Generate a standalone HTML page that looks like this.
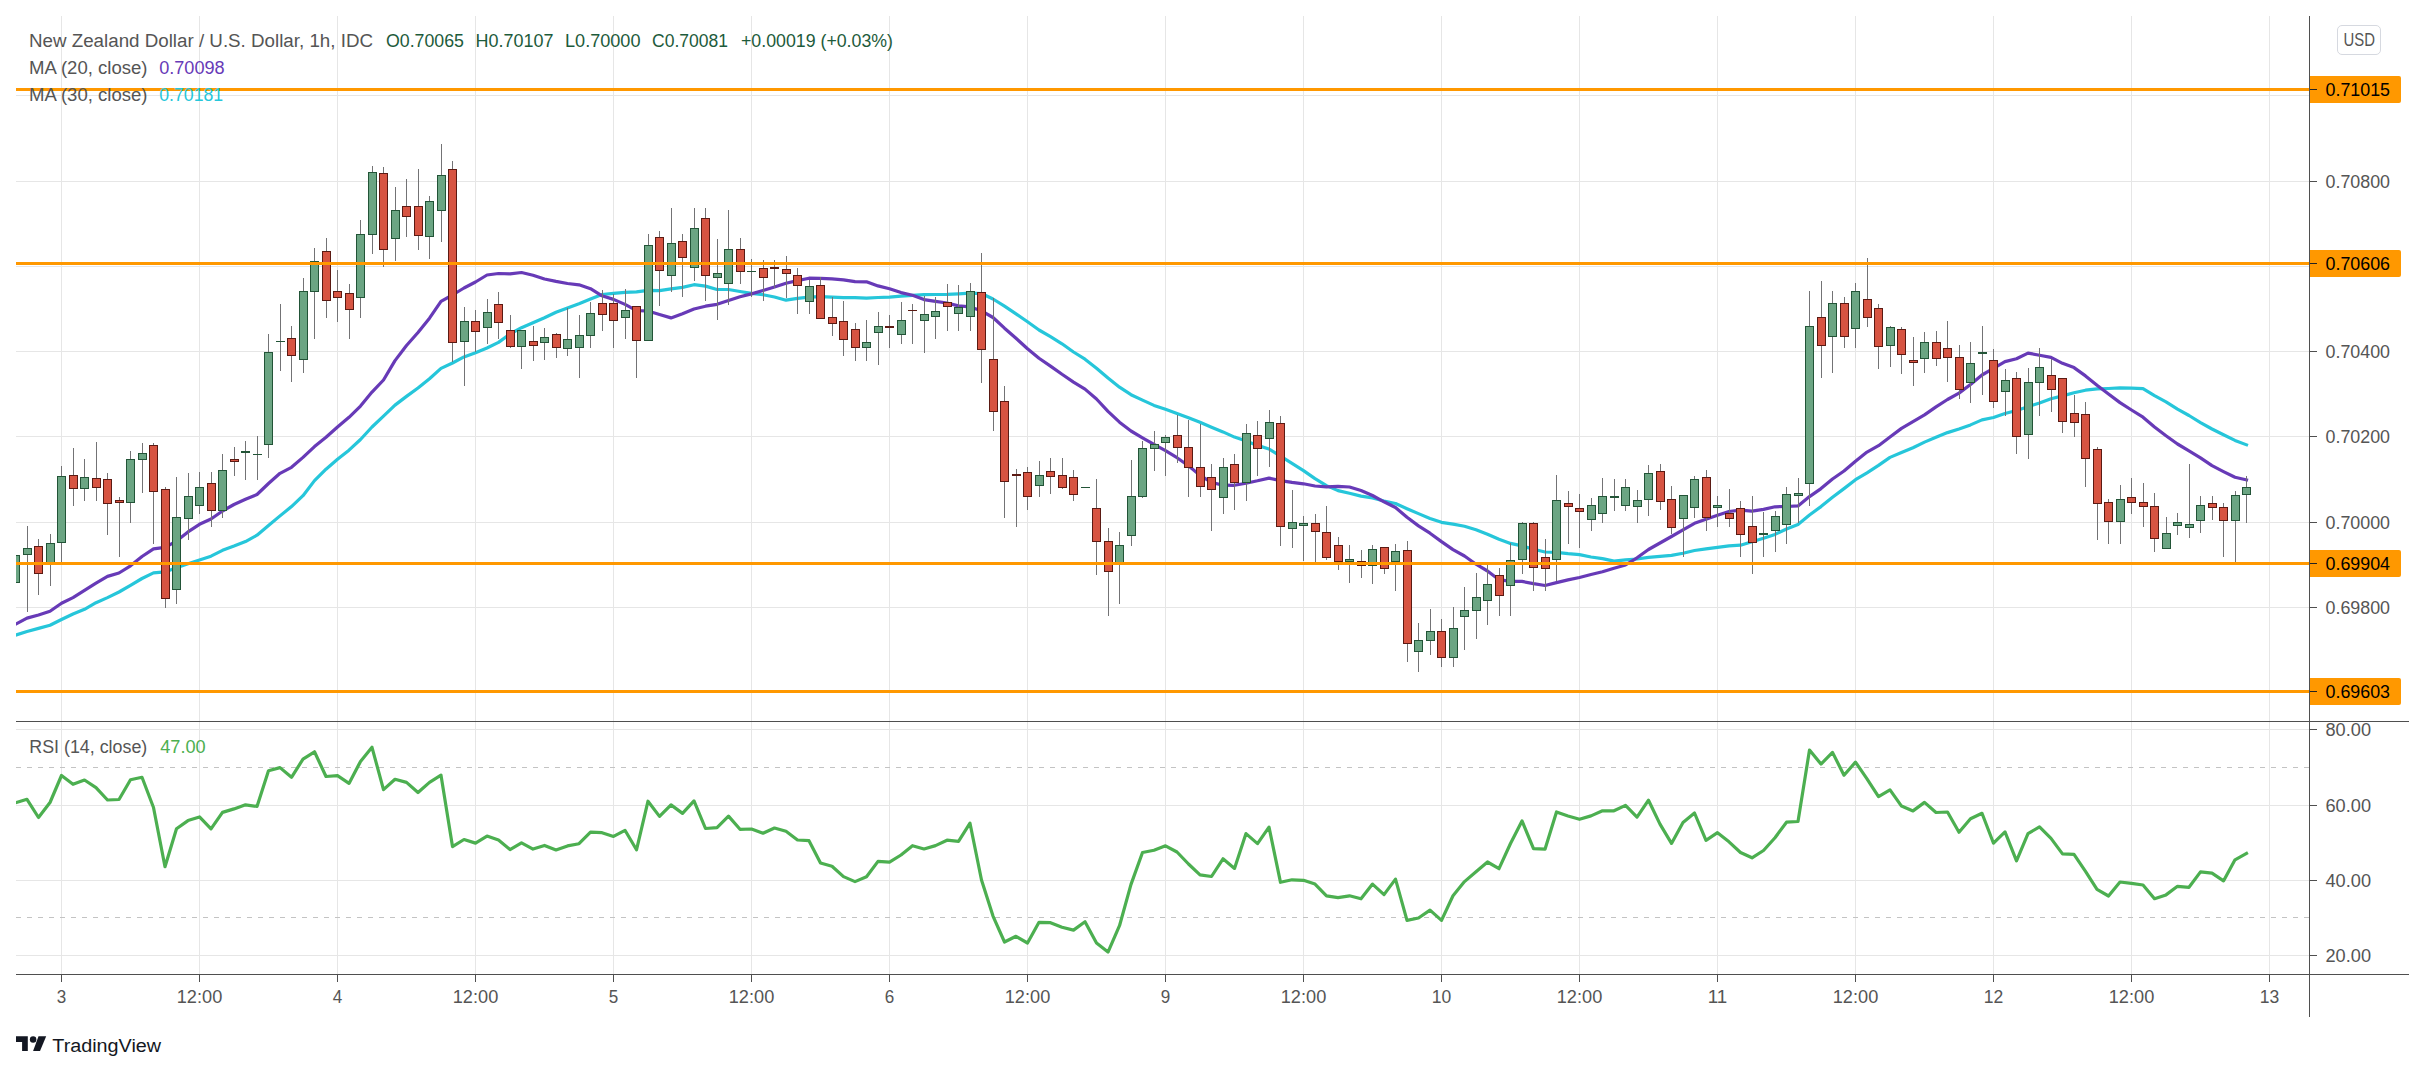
<!DOCTYPE html>
<html><head><meta charset="utf-8"><title>NZDUSD</title>
<style>html,body{margin:0;padding:0;background:#fff;}body{width:2425px;height:1072px;position:relative;overflow:hidden;font-family:"Liberation Sans",sans-serif;}</style>
</head><body>
<svg width="2425" height="1072" viewBox="0 0 2425 1072" style="position:absolute;left:0;top:0">
<rect width="2425" height="1072" fill="#fff"/>
<defs><clipPath id="cm"><rect x="16" y="16" width="2293" height="705"/></clipPath><clipPath id="cr"><rect x="16" y="722" width="2293" height="252"/></clipPath></defs>
<g fill="#e6e6e6" shape-rendering="crispEdges"><rect x="61" y="16" width="1" height="705"/><rect x="61" y="722" width="1" height="252"/><rect x="199" y="16" width="1" height="705"/><rect x="199" y="722" width="1" height="252"/><rect x="337" y="16" width="1" height="705"/><rect x="337" y="722" width="1" height="252"/><rect x="475" y="16" width="1" height="705"/><rect x="475" y="722" width="1" height="252"/><rect x="613" y="16" width="1" height="705"/><rect x="613" y="722" width="1" height="252"/><rect x="751" y="16" width="1" height="705"/><rect x="751" y="722" width="1" height="252"/><rect x="889" y="16" width="1" height="705"/><rect x="889" y="722" width="1" height="252"/><rect x="1027" y="16" width="1" height="705"/><rect x="1027" y="722" width="1" height="252"/><rect x="1165" y="16" width="1" height="705"/><rect x="1165" y="722" width="1" height="252"/><rect x="1303" y="16" width="1" height="705"/><rect x="1303" y="722" width="1" height="252"/><rect x="1441" y="16" width="1" height="705"/><rect x="1441" y="722" width="1" height="252"/><rect x="1579" y="16" width="1" height="705"/><rect x="1579" y="722" width="1" height="252"/><rect x="1717" y="16" width="1" height="705"/><rect x="1717" y="722" width="1" height="252"/><rect x="1855" y="16" width="1" height="705"/><rect x="1855" y="722" width="1" height="252"/><rect x="1993" y="16" width="1" height="705"/><rect x="1993" y="722" width="1" height="252"/><rect x="2131" y="16" width="1" height="705"/><rect x="2131" y="722" width="1" height="252"/><rect x="2269" y="16" width="1" height="705"/><rect x="2269" y="722" width="1" height="252"/><rect x="16" y="95" width="2293" height="1"/><rect x="16" y="181" width="2293" height="1"/><rect x="16" y="266" width="2293" height="1"/><rect x="16" y="351" width="2293" height="1"/><rect x="16" y="436" width="2293" height="1"/><rect x="16" y="522" width="2293" height="1"/><rect x="16" y="607" width="2293" height="1"/><rect x="16" y="692" width="2293" height="1"/><rect x="16" y="729" width="2293" height="1"/><rect x="16" y="805" width="2293" height="1"/><rect x="16" y="880" width="2293" height="1"/><rect x="16" y="955" width="2293" height="1"/></g>
<line x1="16" x2="2309" y1="767.5" y2="767.5" stroke="#c3c3c3" stroke-width="1" stroke-dasharray="5,6" shape-rendering="crispEdges"/>
<line x1="16" x2="2309" y1="917.5" y2="917.5" stroke="#c3c3c3" stroke-width="1" stroke-dasharray="5,6" shape-rendering="crispEdges"/>
<polyline points="15.5,635.2 27.0,631.5 38.5,628.4 50.0,625.3 61.5,619.5 73.0,614.0 84.5,609.3 96.0,602.7 107.5,597.6 119.0,592.0 130.5,585.3 142.0,578.5 153.5,572.9 165.0,571.9 176.5,567.8 188.0,563.7 199.5,560.0 211.0,556.2 222.5,550.3 234.0,546.1 245.5,541.6 257.0,535.2 268.5,525.6 280.0,515.9 291.5,506.6 303.0,495.7 314.5,480.6 326.0,469.2 337.5,459.3 349.0,450.2 360.5,439.5 372.0,427.0 383.5,416.2 395.0,405.1 406.5,396.4 418.0,388.0 429.5,378.8 441.0,368.4 452.5,363.0 464.0,356.9 475.5,352.7 487.0,348.0 498.5,342.4 510.0,334.0 521.5,327.7 533.0,322.7 544.5,317.7 556.0,312.3 567.5,307.9 579.0,303.7 590.5,299.1 602.0,294.5 613.5,293.4 625.0,292.4 636.5,291.9 648.0,290.4 659.5,290.7 671.0,288.8 682.5,287.4 694.0,284.7 705.5,286.1 717.0,289.5 728.5,289.5 740.0,291.5 751.5,293.3 763.0,294.7 774.5,297.0 786.0,300.2 797.5,298.3 809.0,297.2 820.5,296.7 832.0,297.1 843.5,297.7 855.0,297.7 866.5,298.1 878.0,297.5 889.5,297.2 901.0,296.2 912.5,295.3 924.0,294.6 935.5,294.5 947.0,294.3 958.5,293.8 970.0,293.2 981.5,293.5 993.0,299.0 1004.5,306.1 1016.0,313.8 1027.5,321.8 1039.0,330.0 1050.5,336.7 1062.0,343.8 1073.5,352.0 1085.0,359.2 1096.5,368.2 1108.0,378.0 1119.5,387.2 1131.0,394.7 1142.5,400.1 1154.0,405.4 1165.5,409.3 1177.0,413.5 1188.5,417.7 1200.0,422.3 1211.5,427.2 1223.0,431.9 1234.5,437.1 1246.0,440.9 1257.5,445.4 1269.0,449.0 1280.5,456.2 1292.0,463.4 1303.5,470.6 1315.0,478.6 1326.5,485.6 1338.0,490.6 1349.5,493.2 1361.0,496.1 1372.5,497.9 1384.0,501.0 1395.5,503.5 1407.0,508.7 1418.5,513.6 1430.0,518.4 1441.5,522.3 1453.0,524.2 1464.5,526.3 1476.0,529.7 1487.5,534.2 1499.0,539.3 1510.5,543.4 1522.0,545.9 1533.5,549.2 1545.0,552.0 1556.5,552.3 1568.0,553.7 1579.5,554.6 1591.0,557.0 1602.5,558.6 1614.0,561.1 1625.5,559.8 1637.0,559.0 1648.5,557.4 1660.0,556.4 1671.5,555.4 1683.0,553.2 1694.5,550.5 1706.0,548.9 1717.5,547.4 1729.0,545.8 1740.5,545.2 1752.0,541.8 1763.5,538.3 1775.0,534.4 1786.5,529.0 1798.0,524.5 1809.5,515.0 1821.0,506.6 1832.5,497.3 1844.0,488.6 1855.5,479.7 1867.0,472.8 1878.5,465.4 1890.0,457.4 1901.5,452.5 1913.0,447.7 1924.5,442.1 1936.0,437.2 1947.5,432.6 1959.0,429.0 1970.5,424.9 1982.0,419.9 1993.5,417.5 2005.0,413.5 2016.5,410.5 2028.0,406.7 2039.5,403.0 2051.0,398.7 2062.5,395.9 2074.0,392.7 2085.5,390.2 2097.0,388.9 2108.5,388.5 2120.0,387.9 2131.5,388.2 2143.0,388.6 2154.5,395.7 2166.0,401.9 2177.5,409.2 2189.0,415.5 2200.5,422.6 2212.0,429.0 2223.5,434.8 2235.0,440.4 2246.5,444.8" fill="none" stroke="#26c6da" stroke-width="3.2" stroke-linejoin="round" stroke-linecap="square" clip-path="url(#cm)"/>
<polyline points="15.5,624.3 27.0,618.1 38.5,615.0 50.0,611.3 61.5,603.3 73.0,597.6 84.5,590.4 96.0,583.2 107.5,576.4 119.0,573.0 130.5,565.8 142.0,556.5 153.5,548.9 165.0,547.3 176.5,541.1 188.0,531.9 199.5,524.3 211.0,519.0 222.5,511.0 234.0,504.5 245.5,499.3 257.0,494.5 268.5,483.5 280.0,473.3 291.5,467.3 303.0,457.4 314.5,446.6 326.0,437.3 337.5,427.0 349.0,417.3 360.5,406.1 372.0,392.1 383.5,380.0 395.0,360.6 406.5,345.5 418.0,332.5 429.5,318.2 441.0,301.4 452.5,295.0 464.0,288.0 475.5,282.0 487.0,275.0 498.5,273.5 510.0,273.8 521.5,272.5 533.0,275.2 544.5,279.0 556.0,281.4 567.5,283.5 579.0,284.8 590.5,288.7 602.0,295.8 613.5,299.4 625.0,304.4 636.5,310.6 648.0,311.0 659.5,314.5 671.0,317.9 682.5,313.7 694.0,309.0 705.5,306.2 717.0,304.3 728.5,300.6 740.0,296.8 751.5,293.9 763.0,290.5 774.5,287.0 786.0,283.3 797.5,280.6 809.0,278.2 820.5,278.4 832.0,278.9 843.5,279.8 855.0,281.7 866.5,281.8 878.0,285.9 889.5,288.7 901.0,292.6 912.5,295.3 924.0,299.6 935.5,301.4 947.0,303.0 958.5,305.9 970.0,306.9 981.5,310.8 993.0,317.5 1004.5,328.2 1016.0,338.3 1027.5,348.8 1039.0,358.3 1050.5,366.1 1062.0,374.3 1073.5,382.1 1085.0,389.1 1096.5,399.0 1108.0,411.3 1119.5,422.2 1131.0,431.0 1142.5,437.8 1154.0,444.3 1165.5,450.6 1177.0,457.7 1188.5,465.7 1200.0,475.4 1211.5,482.4 1223.0,485.2 1234.5,485.3 1246.0,483.2 1257.5,480.8 1269.0,478.1 1280.5,480.6 1292.0,482.4 1303.5,483.8 1315.0,486.0 1326.5,486.8 1338.0,486.3 1349.5,487.0 1361.0,490.5 1372.5,495.5 1384.0,501.8 1395.5,507.5 1407.0,517.3 1418.5,525.9 1430.0,533.2 1441.5,541.6 1453.0,549.6 1464.5,556.0 1476.0,564.2 1487.5,571.0 1499.0,579.7 1510.5,581.4 1522.0,581.4 1533.5,583.6 1545.0,585.5 1556.5,582.6 1568.0,579.9 1579.5,577.5 1591.0,574.5 1602.5,571.8 1614.0,568.2 1625.5,565.0 1637.0,557.8 1648.5,549.5 1660.0,543.0 1671.5,536.5 1683.0,529.8 1694.5,523.3 1706.0,519.3 1717.5,515.3 1729.0,511.5 1740.5,510.2 1752.0,511.1 1763.5,509.4 1775.0,506.8 1786.5,506.5 1798.0,505.9 1809.5,496.6 1821.0,488.6 1832.5,479.0 1844.0,471.0 1855.5,461.2 1867.0,452.1 1878.5,445.7 1890.0,437.0 1901.5,428.4 1913.0,421.7 1924.5,414.9 1936.0,406.9 1947.5,399.5 1959.0,393.1 1970.5,384.5 1982.0,375.0 1993.5,368.4 2005.0,361.6 2016.5,358.7 2028.0,353.1 2039.5,355.2 2051.0,357.4 2062.5,363.3 2074.0,367.6 2085.5,375.9 2097.0,385.2 2108.5,394.0 2120.0,402.6 2131.5,410.0 2143.0,417.2 2154.5,427.0 2166.0,435.8 2177.5,444.0 2189.0,450.8 2200.5,457.9 2212.0,465.6 2223.5,471.6 2235.0,477.3 2246.5,479.9" fill="none" stroke="#673ab7" stroke-width="3.2" stroke-linejoin="round" stroke-linecap="square" clip-path="url(#cm)"/>
<g shape-rendering="crispEdges" clip-path="url(#cm)"><rect x="15" y="540" width="1" height="43" fill="#737375"/><rect x="11" y="555" width="9" height="28" fill="#225437"/><rect x="12" y="556" width="7" height="26" fill="#6ba583"/><rect x="27" y="526" width="1" height="86" fill="#737375"/><rect x="23" y="548" width="9" height="7" fill="#225437"/><rect x="24" y="549" width="7" height="5" fill="#6ba583"/><rect x="38" y="539" width="1" height="56" fill="#737375"/><rect x="34" y="546" width="9" height="28" fill="#5b1a13"/><rect x="35" y="547" width="7" height="26" fill="#d75442"/><rect x="50" y="534" width="1" height="52" fill="#737375"/><rect x="46" y="543" width="9" height="21" fill="#225437"/><rect x="47" y="544" width="7" height="19" fill="#6ba583"/><rect x="61" y="466" width="1" height="97" fill="#737375"/><rect x="57" y="476" width="9" height="67" fill="#225437"/><rect x="58" y="477" width="7" height="65" fill="#6ba583"/><rect x="73" y="448" width="1" height="58" fill="#737375"/><rect x="69" y="475" width="9" height="14" fill="#5b1a13"/><rect x="70" y="476" width="7" height="12" fill="#d75442"/><rect x="84" y="459" width="1" height="42" fill="#737375"/><rect x="80" y="477" width="9" height="12" fill="#225437"/><rect x="81" y="478" width="7" height="10" fill="#6ba583"/><rect x="96" y="442" width="1" height="59" fill="#737375"/><rect x="92" y="478" width="9" height="10" fill="#5b1a13"/><rect x="93" y="479" width="7" height="8" fill="#d75442"/><rect x="107" y="473" width="1" height="62" fill="#737375"/><rect x="103" y="479" width="9" height="25" fill="#5b1a13"/><rect x="104" y="480" width="7" height="23" fill="#d75442"/><rect x="119" y="497" width="1" height="60" fill="#737375"/><rect x="115" y="500" width="9" height="3" fill="#5b1a13"/><rect x="116" y="501" width="7" height="1" fill="#d75442"/><rect x="130" y="451" width="1" height="72" fill="#737375"/><rect x="126" y="459" width="9" height="44" fill="#225437"/><rect x="127" y="460" width="7" height="42" fill="#6ba583"/><rect x="142" y="443" width="1" height="50" fill="#737375"/><rect x="138" y="453" width="9" height="7" fill="#225437"/><rect x="139" y="454" width="7" height="5" fill="#6ba583"/><rect x="153" y="443" width="1" height="101" fill="#737375"/><rect x="149" y="445" width="9" height="47" fill="#5b1a13"/><rect x="150" y="446" width="7" height="45" fill="#d75442"/><rect x="165" y="487" width="1" height="121" fill="#737375"/><rect x="161" y="489" width="9" height="110" fill="#5b1a13"/><rect x="162" y="490" width="7" height="108" fill="#d75442"/><rect x="176" y="477" width="1" height="127" fill="#737375"/><rect x="172" y="517" width="9" height="73" fill="#225437"/><rect x="173" y="518" width="7" height="71" fill="#6ba583"/><rect x="188" y="473" width="1" height="67" fill="#737375"/><rect x="184" y="496" width="9" height="23" fill="#225437"/><rect x="185" y="497" width="7" height="21" fill="#6ba583"/><rect x="199" y="472" width="1" height="42" fill="#737375"/><rect x="195" y="487" width="9" height="19" fill="#225437"/><rect x="196" y="488" width="7" height="17" fill="#6ba583"/><rect x="211" y="472" width="1" height="55" fill="#737375"/><rect x="207" y="483" width="9" height="28" fill="#5b1a13"/><rect x="208" y="484" width="7" height="26" fill="#d75442"/><rect x="222" y="454" width="1" height="64" fill="#737375"/><rect x="218" y="470" width="9" height="41" fill="#225437"/><rect x="219" y="471" width="7" height="39" fill="#6ba583"/><rect x="234" y="447" width="1" height="29" fill="#737375"/><rect x="230" y="459" width="9" height="3" fill="#5b1a13"/><rect x="231" y="460" width="7" height="1" fill="#d75442"/><rect x="245" y="441" width="1" height="39" fill="#737375"/><rect x="241" y="451" width="9" height="2" fill="#225437"/><rect x="257" y="436" width="1" height="44" fill="#737375"/><rect x="253" y="454" width="9" height="1" fill="#225437"/><rect x="268" y="334" width="1" height="124" fill="#737375"/><rect x="264" y="352" width="9" height="93" fill="#225437"/><rect x="265" y="353" width="7" height="91" fill="#6ba583"/><rect x="280" y="304" width="1" height="67" fill="#737375"/><rect x="276" y="341" width="9" height="1" fill="#225437"/><rect x="291" y="326" width="1" height="56" fill="#737375"/><rect x="287" y="338" width="9" height="18" fill="#5b1a13"/><rect x="288" y="339" width="7" height="16" fill="#d75442"/><rect x="303" y="278" width="1" height="95" fill="#737375"/><rect x="299" y="291" width="9" height="69" fill="#225437"/><rect x="300" y="292" width="7" height="67" fill="#6ba583"/><rect x="314" y="248" width="1" height="91" fill="#737375"/><rect x="310" y="261" width="9" height="31" fill="#225437"/><rect x="311" y="262" width="7" height="29" fill="#6ba583"/><rect x="326" y="238" width="1" height="80" fill="#737375"/><rect x="322" y="251" width="9" height="50" fill="#5b1a13"/><rect x="323" y="252" width="7" height="48" fill="#d75442"/><rect x="337" y="270" width="1" height="52" fill="#737375"/><rect x="333" y="291" width="9" height="7" fill="#5b1a13"/><rect x="334" y="292" width="7" height="5" fill="#d75442"/><rect x="349" y="284" width="1" height="55" fill="#737375"/><rect x="345" y="293" width="9" height="17" fill="#5b1a13"/><rect x="346" y="294" width="7" height="15" fill="#d75442"/><rect x="360" y="220" width="1" height="98" fill="#737375"/><rect x="356" y="234" width="9" height="64" fill="#225437"/><rect x="357" y="235" width="7" height="62" fill="#6ba583"/><rect x="372" y="166" width="1" height="88" fill="#737375"/><rect x="368" y="172" width="9" height="63" fill="#225437"/><rect x="369" y="173" width="7" height="61" fill="#6ba583"/><rect x="383" y="167" width="1" height="100" fill="#737375"/><rect x="379" y="173" width="9" height="77" fill="#5b1a13"/><rect x="380" y="174" width="7" height="75" fill="#d75442"/><rect x="395" y="187" width="1" height="74" fill="#737375"/><rect x="391" y="210" width="9" height="29" fill="#225437"/><rect x="392" y="211" width="7" height="27" fill="#6ba583"/><rect x="406" y="179" width="1" height="58" fill="#737375"/><rect x="402" y="206" width="9" height="11" fill="#5b1a13"/><rect x="403" y="207" width="7" height="9" fill="#d75442"/><rect x="418" y="169" width="1" height="81" fill="#737375"/><rect x="414" y="206" width="9" height="30" fill="#5b1a13"/><rect x="415" y="207" width="7" height="28" fill="#d75442"/><rect x="429" y="196" width="1" height="63" fill="#737375"/><rect x="425" y="201" width="9" height="36" fill="#225437"/><rect x="426" y="202" width="7" height="34" fill="#6ba583"/><rect x="441" y="144" width="1" height="98" fill="#737375"/><rect x="437" y="175" width="9" height="36" fill="#225437"/><rect x="438" y="176" width="7" height="34" fill="#6ba583"/><rect x="452" y="161" width="1" height="201" fill="#737375"/><rect x="448" y="169" width="9" height="174" fill="#5b1a13"/><rect x="449" y="170" width="7" height="172" fill="#d75442"/><rect x="464" y="307" width="1" height="79" fill="#737375"/><rect x="460" y="321" width="9" height="21" fill="#225437"/><rect x="461" y="322" width="7" height="19" fill="#6ba583"/><rect x="475" y="310" width="1" height="42" fill="#737375"/><rect x="471" y="321" width="9" height="11" fill="#5b1a13"/><rect x="472" y="322" width="7" height="9" fill="#d75442"/><rect x="487" y="299" width="1" height="45" fill="#737375"/><rect x="483" y="312" width="9" height="16" fill="#225437"/><rect x="484" y="313" width="7" height="14" fill="#6ba583"/><rect x="498" y="292" width="1" height="47" fill="#737375"/><rect x="494" y="304" width="9" height="19" fill="#5b1a13"/><rect x="495" y="305" width="7" height="17" fill="#d75442"/><rect x="510" y="315" width="1" height="33" fill="#737375"/><rect x="506" y="330" width="9" height="17" fill="#5b1a13"/><rect x="507" y="331" width="7" height="15" fill="#d75442"/><rect x="521" y="330" width="1" height="39" fill="#737375"/><rect x="517" y="330" width="9" height="17" fill="#225437"/><rect x="518" y="331" width="7" height="15" fill="#6ba583"/><rect x="533" y="326" width="1" height="35" fill="#737375"/><rect x="529" y="341" width="9" height="5" fill="#5b1a13"/><rect x="530" y="342" width="7" height="3" fill="#d75442"/><rect x="544" y="328" width="1" height="32" fill="#737375"/><rect x="540" y="337" width="9" height="6" fill="#225437"/><rect x="541" y="338" width="7" height="4" fill="#6ba583"/><rect x="556" y="333" width="1" height="25" fill="#737375"/><rect x="552" y="334" width="9" height="14" fill="#5b1a13"/><rect x="553" y="335" width="7" height="12" fill="#d75442"/><rect x="567" y="308" width="1" height="48" fill="#737375"/><rect x="563" y="339" width="9" height="10" fill="#225437"/><rect x="564" y="340" width="7" height="8" fill="#6ba583"/><rect x="579" y="315" width="1" height="63" fill="#737375"/><rect x="575" y="335" width="9" height="13" fill="#225437"/><rect x="576" y="336" width="7" height="11" fill="#6ba583"/><rect x="590" y="302" width="1" height="46" fill="#737375"/><rect x="586" y="313" width="9" height="23" fill="#225437"/><rect x="587" y="314" width="7" height="21" fill="#6ba583"/><rect x="602" y="290" width="1" height="41" fill="#737375"/><rect x="598" y="303" width="9" height="12" fill="#5b1a13"/><rect x="599" y="304" width="7" height="10" fill="#d75442"/><rect x="613" y="294" width="1" height="54" fill="#737375"/><rect x="609" y="303" width="9" height="18" fill="#5b1a13"/><rect x="610" y="304" width="7" height="16" fill="#d75442"/><rect x="625" y="289" width="1" height="50" fill="#737375"/><rect x="621" y="310" width="9" height="8" fill="#225437"/><rect x="622" y="311" width="7" height="6" fill="#6ba583"/><rect x="636" y="306" width="1" height="72" fill="#737375"/><rect x="632" y="306" width="9" height="35" fill="#5b1a13"/><rect x="633" y="307" width="7" height="33" fill="#d75442"/><rect x="648" y="234" width="1" height="107" fill="#737375"/><rect x="644" y="245" width="9" height="96" fill="#225437"/><rect x="645" y="246" width="7" height="94" fill="#6ba583"/><rect x="659" y="231" width="1" height="75" fill="#737375"/><rect x="655" y="237" width="9" height="34" fill="#5b1a13"/><rect x="656" y="238" width="7" height="32" fill="#d75442"/><rect x="671" y="208" width="1" height="84" fill="#737375"/><rect x="667" y="243" width="9" height="33" fill="#225437"/><rect x="668" y="244" width="7" height="31" fill="#6ba583"/><rect x="682" y="234" width="1" height="63" fill="#737375"/><rect x="678" y="241" width="9" height="17" fill="#5b1a13"/><rect x="679" y="242" width="7" height="15" fill="#d75442"/><rect x="694" y="208" width="1" height="73" fill="#737375"/><rect x="690" y="228" width="9" height="40" fill="#225437"/><rect x="691" y="229" width="7" height="38" fill="#6ba583"/><rect x="705" y="208" width="1" height="93" fill="#737375"/><rect x="701" y="218" width="9" height="58" fill="#5b1a13"/><rect x="702" y="219" width="7" height="56" fill="#d75442"/><rect x="717" y="239" width="1" height="81" fill="#737375"/><rect x="713" y="273" width="9" height="5" fill="#225437"/><rect x="714" y="274" width="7" height="3" fill="#6ba583"/><rect x="728" y="210" width="1" height="95" fill="#737375"/><rect x="724" y="249" width="9" height="35" fill="#225437"/><rect x="725" y="250" width="7" height="33" fill="#6ba583"/><rect x="740" y="238" width="1" height="46" fill="#737375"/><rect x="736" y="249" width="9" height="23" fill="#5b1a13"/><rect x="737" y="250" width="7" height="21" fill="#d75442"/><rect x="751" y="259" width="1" height="38" fill="#737375"/><rect x="747" y="271" width="9" height="1" fill="#225437"/><rect x="763" y="260" width="1" height="41" fill="#737375"/><rect x="759" y="268" width="9" height="10" fill="#5b1a13"/><rect x="760" y="269" width="7" height="8" fill="#d75442"/><rect x="774" y="260" width="1" height="28" fill="#737375"/><rect x="770" y="267" width="9" height="2" fill="#5b1a13"/><rect x="786" y="256" width="1" height="42" fill="#737375"/><rect x="782" y="269" width="9" height="5" fill="#5b1a13"/><rect x="783" y="270" width="7" height="3" fill="#d75442"/><rect x="797" y="268" width="1" height="46" fill="#737375"/><rect x="793" y="275" width="9" height="11" fill="#5b1a13"/><rect x="794" y="276" width="7" height="9" fill="#d75442"/><rect x="809" y="280" width="1" height="34" fill="#737375"/><rect x="805" y="286" width="9" height="16" fill="#225437"/><rect x="806" y="287" width="7" height="14" fill="#6ba583"/><rect x="820" y="277" width="1" height="42" fill="#737375"/><rect x="816" y="285" width="9" height="34" fill="#5b1a13"/><rect x="817" y="286" width="7" height="32" fill="#d75442"/><rect x="832" y="297" width="1" height="39" fill="#737375"/><rect x="828" y="317" width="9" height="7" fill="#5b1a13"/><rect x="829" y="318" width="7" height="5" fill="#d75442"/><rect x="843" y="301" width="1" height="55" fill="#737375"/><rect x="839" y="321" width="9" height="19" fill="#5b1a13"/><rect x="840" y="322" width="7" height="17" fill="#d75442"/><rect x="855" y="323" width="1" height="38" fill="#737375"/><rect x="851" y="329" width="9" height="19" fill="#5b1a13"/><rect x="852" y="330" width="7" height="17" fill="#d75442"/><rect x="866" y="320" width="1" height="41" fill="#737375"/><rect x="862" y="342" width="9" height="6" fill="#225437"/><rect x="863" y="343" width="7" height="4" fill="#6ba583"/><rect x="878" y="312" width="1" height="53" fill="#737375"/><rect x="874" y="326" width="9" height="7" fill="#225437"/><rect x="875" y="327" width="7" height="5" fill="#6ba583"/><rect x="889" y="315" width="1" height="33" fill="#737375"/><rect x="885" y="326" width="9" height="2" fill="#5b1a13"/><rect x="901" y="302" width="1" height="42" fill="#737375"/><rect x="897" y="320" width="9" height="15" fill="#225437"/><rect x="898" y="321" width="7" height="13" fill="#6ba583"/><rect x="912" y="304" width="1" height="40" fill="#737375"/><rect x="908" y="310" width="9" height="1" fill="#5b1a13"/><rect x="924" y="296" width="1" height="57" fill="#737375"/><rect x="920" y="314" width="9" height="7" fill="#225437"/><rect x="921" y="315" width="7" height="5" fill="#6ba583"/><rect x="935" y="297" width="1" height="42" fill="#737375"/><rect x="931" y="311" width="9" height="6" fill="#225437"/><rect x="932" y="312" width="7" height="4" fill="#6ba583"/><rect x="947" y="284" width="1" height="47" fill="#737375"/><rect x="943" y="302" width="9" height="5" fill="#5b1a13"/><rect x="944" y="303" width="7" height="3" fill="#d75442"/><rect x="958" y="285" width="1" height="46" fill="#737375"/><rect x="954" y="307" width="9" height="7" fill="#225437"/><rect x="955" y="308" width="7" height="5" fill="#6ba583"/><rect x="970" y="283" width="1" height="48" fill="#737375"/><rect x="966" y="291" width="9" height="26" fill="#225437"/><rect x="967" y="292" width="7" height="24" fill="#6ba583"/><rect x="981" y="253" width="1" height="130" fill="#737375"/><rect x="977" y="292" width="9" height="58" fill="#5b1a13"/><rect x="978" y="293" width="7" height="56" fill="#d75442"/><rect x="993" y="298" width="1" height="133" fill="#737375"/><rect x="989" y="359" width="9" height="53" fill="#5b1a13"/><rect x="990" y="360" width="7" height="51" fill="#d75442"/><rect x="1004" y="386" width="1" height="132" fill="#737375"/><rect x="1000" y="401" width="9" height="81" fill="#5b1a13"/><rect x="1001" y="402" width="7" height="79" fill="#d75442"/><rect x="1016" y="469" width="1" height="58" fill="#737375"/><rect x="1012" y="474" width="9" height="2" fill="#5b1a13"/><rect x="1027" y="467" width="1" height="43" fill="#737375"/><rect x="1023" y="472" width="9" height="25" fill="#5b1a13"/><rect x="1024" y="473" width="7" height="23" fill="#d75442"/><rect x="1039" y="461" width="1" height="36" fill="#737375"/><rect x="1035" y="475" width="9" height="11" fill="#225437"/><rect x="1036" y="476" width="7" height="9" fill="#6ba583"/><rect x="1050" y="458" width="1" height="36" fill="#737375"/><rect x="1046" y="471" width="9" height="6" fill="#5b1a13"/><rect x="1047" y="472" width="7" height="4" fill="#d75442"/><rect x="1062" y="458" width="1" height="31" fill="#737375"/><rect x="1058" y="475" width="9" height="13" fill="#5b1a13"/><rect x="1059" y="476" width="7" height="11" fill="#d75442"/><rect x="1073" y="470" width="1" height="31" fill="#737375"/><rect x="1069" y="477" width="9" height="18" fill="#5b1a13"/><rect x="1070" y="478" width="7" height="16" fill="#d75442"/><rect x="1085" y="487" width="1" height="1" fill="#737375"/><rect x="1081" y="487" width="9" height="1" fill="#225437"/><rect x="1096" y="479" width="1" height="96" fill="#737375"/><rect x="1092" y="508" width="9" height="34" fill="#5b1a13"/><rect x="1093" y="509" width="7" height="32" fill="#d75442"/><rect x="1108" y="528" width="1" height="88" fill="#737375"/><rect x="1104" y="541" width="9" height="31" fill="#5b1a13"/><rect x="1105" y="542" width="7" height="29" fill="#d75442"/><rect x="1119" y="532" width="1" height="72" fill="#737375"/><rect x="1115" y="545" width="9" height="19" fill="#225437"/><rect x="1116" y="546" width="7" height="17" fill="#6ba583"/><rect x="1131" y="460" width="1" height="86" fill="#737375"/><rect x="1127" y="496" width="9" height="40" fill="#225437"/><rect x="1128" y="497" width="7" height="38" fill="#6ba583"/><rect x="1142" y="441" width="1" height="57" fill="#737375"/><rect x="1138" y="448" width="9" height="49" fill="#225437"/><rect x="1139" y="449" width="7" height="47" fill="#6ba583"/><rect x="1154" y="431" width="1" height="40" fill="#737375"/><rect x="1150" y="444" width="9" height="5" fill="#225437"/><rect x="1151" y="445" width="7" height="3" fill="#6ba583"/><rect x="1165" y="435" width="1" height="41" fill="#737375"/><rect x="1161" y="437" width="9" height="6" fill="#225437"/><rect x="1162" y="438" width="7" height="4" fill="#6ba583"/><rect x="1177" y="415" width="1" height="48" fill="#737375"/><rect x="1173" y="435" width="9" height="13" fill="#5b1a13"/><rect x="1174" y="436" width="7" height="11" fill="#d75442"/><rect x="1188" y="420" width="1" height="77" fill="#737375"/><rect x="1184" y="447" width="9" height="21" fill="#5b1a13"/><rect x="1185" y="448" width="7" height="19" fill="#d75442"/><rect x="1200" y="424" width="1" height="73" fill="#737375"/><rect x="1196" y="467" width="9" height="20" fill="#5b1a13"/><rect x="1197" y="468" width="7" height="18" fill="#d75442"/><rect x="1211" y="464" width="1" height="67" fill="#737375"/><rect x="1207" y="477" width="9" height="13" fill="#5b1a13"/><rect x="1208" y="478" width="7" height="11" fill="#d75442"/><rect x="1223" y="458" width="1" height="56" fill="#737375"/><rect x="1219" y="467" width="9" height="31" fill="#225437"/><rect x="1220" y="468" width="7" height="29" fill="#6ba583"/><rect x="1234" y="454" width="1" height="56" fill="#737375"/><rect x="1230" y="464" width="9" height="19" fill="#5b1a13"/><rect x="1231" y="465" width="7" height="17" fill="#d75442"/><rect x="1246" y="424" width="1" height="77" fill="#737375"/><rect x="1242" y="433" width="9" height="50" fill="#225437"/><rect x="1243" y="434" width="7" height="48" fill="#6ba583"/><rect x="1257" y="421" width="1" height="55" fill="#737375"/><rect x="1253" y="435" width="9" height="14" fill="#5b1a13"/><rect x="1254" y="436" width="7" height="12" fill="#d75442"/><rect x="1269" y="410" width="1" height="57" fill="#737375"/><rect x="1265" y="422" width="9" height="17" fill="#225437"/><rect x="1266" y="423" width="7" height="15" fill="#6ba583"/><rect x="1280" y="416" width="1" height="130" fill="#737375"/><rect x="1276" y="423" width="9" height="104" fill="#5b1a13"/><rect x="1277" y="424" width="7" height="102" fill="#d75442"/><rect x="1292" y="490" width="1" height="58" fill="#737375"/><rect x="1288" y="522" width="9" height="7" fill="#225437"/><rect x="1289" y="523" width="7" height="5" fill="#6ba583"/><rect x="1303" y="516" width="1" height="45" fill="#737375"/><rect x="1299" y="523" width="9" height="3" fill="#225437"/><rect x="1300" y="524" width="7" height="1" fill="#6ba583"/><rect x="1315" y="514" width="1" height="48" fill="#737375"/><rect x="1311" y="523" width="9" height="9" fill="#5b1a13"/><rect x="1312" y="524" width="7" height="7" fill="#d75442"/><rect x="1326" y="506" width="1" height="54" fill="#737375"/><rect x="1322" y="532" width="9" height="26" fill="#5b1a13"/><rect x="1323" y="533" width="7" height="24" fill="#d75442"/><rect x="1338" y="537" width="1" height="33" fill="#737375"/><rect x="1334" y="545" width="9" height="17" fill="#5b1a13"/><rect x="1335" y="546" width="7" height="15" fill="#d75442"/><rect x="1349" y="545" width="1" height="38" fill="#737375"/><rect x="1345" y="559" width="9" height="3" fill="#225437"/><rect x="1346" y="560" width="7" height="1" fill="#6ba583"/><rect x="1361" y="550" width="1" height="28" fill="#737375"/><rect x="1357" y="561" width="9" height="5" fill="#5b1a13"/><rect x="1358" y="562" width="7" height="3" fill="#d75442"/><rect x="1372" y="545" width="1" height="39" fill="#737375"/><rect x="1368" y="549" width="9" height="17" fill="#225437"/><rect x="1369" y="550" width="7" height="15" fill="#6ba583"/><rect x="1384" y="547" width="1" height="27" fill="#737375"/><rect x="1380" y="547" width="9" height="22" fill="#5b1a13"/><rect x="1381" y="548" width="7" height="20" fill="#d75442"/><rect x="1395" y="544" width="1" height="47" fill="#737375"/><rect x="1391" y="551" width="9" height="11" fill="#225437"/><rect x="1392" y="552" width="7" height="9" fill="#6ba583"/><rect x="1407" y="541" width="1" height="121" fill="#737375"/><rect x="1403" y="550" width="9" height="94" fill="#5b1a13"/><rect x="1404" y="551" width="7" height="92" fill="#d75442"/><rect x="1418" y="623" width="1" height="49" fill="#737375"/><rect x="1414" y="640" width="9" height="12" fill="#225437"/><rect x="1415" y="641" width="7" height="10" fill="#6ba583"/><rect x="1430" y="609" width="1" height="46" fill="#737375"/><rect x="1426" y="631" width="9" height="10" fill="#225437"/><rect x="1427" y="632" width="7" height="8" fill="#6ba583"/><rect x="1441" y="619" width="1" height="48" fill="#737375"/><rect x="1437" y="631" width="9" height="27" fill="#5b1a13"/><rect x="1438" y="632" width="7" height="25" fill="#d75442"/><rect x="1453" y="607" width="1" height="60" fill="#737375"/><rect x="1449" y="628" width="9" height="30" fill="#225437"/><rect x="1450" y="629" width="7" height="28" fill="#6ba583"/><rect x="1464" y="587" width="1" height="63" fill="#737375"/><rect x="1460" y="610" width="9" height="7" fill="#225437"/><rect x="1461" y="611" width="7" height="5" fill="#6ba583"/><rect x="1476" y="573" width="1" height="66" fill="#737375"/><rect x="1472" y="597" width="9" height="14" fill="#225437"/><rect x="1473" y="598" width="7" height="12" fill="#6ba583"/><rect x="1487" y="565" width="1" height="60" fill="#737375"/><rect x="1483" y="584" width="9" height="17" fill="#225437"/><rect x="1484" y="585" width="7" height="15" fill="#6ba583"/><rect x="1499" y="568" width="1" height="48" fill="#737375"/><rect x="1495" y="575" width="9" height="21" fill="#5b1a13"/><rect x="1496" y="576" width="7" height="19" fill="#d75442"/><rect x="1510" y="543" width="1" height="73" fill="#737375"/><rect x="1506" y="560" width="9" height="26" fill="#225437"/><rect x="1507" y="561" width="7" height="24" fill="#6ba583"/><rect x="1522" y="522" width="1" height="52" fill="#737375"/><rect x="1518" y="523" width="9" height="37" fill="#225437"/><rect x="1519" y="524" width="7" height="35" fill="#6ba583"/><rect x="1533" y="522" width="1" height="69" fill="#737375"/><rect x="1529" y="523" width="9" height="45" fill="#5b1a13"/><rect x="1530" y="524" width="7" height="43" fill="#d75442"/><rect x="1545" y="539" width="1" height="52" fill="#737375"/><rect x="1541" y="557" width="9" height="12" fill="#5b1a13"/><rect x="1542" y="558" width="7" height="10" fill="#d75442"/><rect x="1556" y="475" width="1" height="106" fill="#737375"/><rect x="1552" y="500" width="9" height="60" fill="#225437"/><rect x="1553" y="501" width="7" height="58" fill="#6ba583"/><rect x="1568" y="491" width="1" height="53" fill="#737375"/><rect x="1564" y="503" width="9" height="4" fill="#5b1a13"/><rect x="1565" y="504" width="7" height="2" fill="#d75442"/><rect x="1579" y="494" width="1" height="54" fill="#737375"/><rect x="1575" y="508" width="9" height="4" fill="#5b1a13"/><rect x="1576" y="509" width="7" height="2" fill="#d75442"/><rect x="1591" y="498" width="1" height="33" fill="#737375"/><rect x="1587" y="505" width="9" height="15" fill="#225437"/><rect x="1588" y="506" width="7" height="13" fill="#6ba583"/><rect x="1602" y="478" width="1" height="45" fill="#737375"/><rect x="1598" y="496" width="9" height="18" fill="#225437"/><rect x="1599" y="497" width="7" height="16" fill="#6ba583"/><rect x="1614" y="479" width="1" height="32" fill="#737375"/><rect x="1610" y="496" width="9" height="2" fill="#225437"/><rect x="1625" y="479" width="1" height="32" fill="#737375"/><rect x="1621" y="487" width="9" height="19" fill="#225437"/><rect x="1622" y="488" width="7" height="17" fill="#6ba583"/><rect x="1637" y="490" width="1" height="33" fill="#737375"/><rect x="1633" y="500" width="9" height="7" fill="#225437"/><rect x="1634" y="501" width="7" height="5" fill="#6ba583"/><rect x="1648" y="465" width="1" height="51" fill="#737375"/><rect x="1644" y="473" width="9" height="27" fill="#225437"/><rect x="1645" y="474" width="7" height="25" fill="#6ba583"/><rect x="1660" y="464" width="1" height="46" fill="#737375"/><rect x="1656" y="471" width="9" height="31" fill="#5b1a13"/><rect x="1657" y="472" width="7" height="29" fill="#d75442"/><rect x="1671" y="486" width="1" height="48" fill="#737375"/><rect x="1667" y="499" width="9" height="29" fill="#5b1a13"/><rect x="1668" y="500" width="7" height="27" fill="#d75442"/><rect x="1683" y="495" width="1" height="62" fill="#737375"/><rect x="1679" y="495" width="9" height="24" fill="#225437"/><rect x="1680" y="496" width="7" height="22" fill="#6ba583"/><rect x="1694" y="476" width="1" height="42" fill="#737375"/><rect x="1690" y="479" width="9" height="29" fill="#225437"/><rect x="1691" y="480" width="7" height="27" fill="#6ba583"/><rect x="1706" y="470" width="1" height="61" fill="#737375"/><rect x="1702" y="477" width="9" height="41" fill="#5b1a13"/><rect x="1703" y="478" width="7" height="39" fill="#d75442"/><rect x="1717" y="496" width="1" height="31" fill="#737375"/><rect x="1713" y="505" width="9" height="3" fill="#225437"/><rect x="1714" y="506" width="7" height="1" fill="#6ba583"/><rect x="1729" y="489" width="1" height="38" fill="#737375"/><rect x="1725" y="513" width="9" height="6" fill="#5b1a13"/><rect x="1726" y="514" width="7" height="4" fill="#d75442"/><rect x="1740" y="501" width="1" height="56" fill="#737375"/><rect x="1736" y="508" width="9" height="27" fill="#5b1a13"/><rect x="1737" y="509" width="7" height="25" fill="#d75442"/><rect x="1752" y="496" width="1" height="78" fill="#737375"/><rect x="1748" y="526" width="9" height="17" fill="#5b1a13"/><rect x="1749" y="527" width="7" height="15" fill="#d75442"/><rect x="1763" y="512" width="1" height="45" fill="#737375"/><rect x="1759" y="533" width="9" height="2" fill="#225437"/><rect x="1775" y="511" width="1" height="41" fill="#737375"/><rect x="1771" y="516" width="9" height="15" fill="#225437"/><rect x="1772" y="517" width="7" height="13" fill="#6ba583"/><rect x="1786" y="487" width="1" height="57" fill="#737375"/><rect x="1782" y="494" width="9" height="31" fill="#225437"/><rect x="1783" y="495" width="7" height="29" fill="#6ba583"/><rect x="1798" y="478" width="1" height="45" fill="#737375"/><rect x="1794" y="493" width="9" height="3" fill="#225437"/><rect x="1795" y="494" width="7" height="1" fill="#6ba583"/><rect x="1809" y="291" width="1" height="215" fill="#737375"/><rect x="1805" y="326" width="9" height="158" fill="#225437"/><rect x="1806" y="327" width="7" height="156" fill="#6ba583"/><rect x="1821" y="281" width="1" height="97" fill="#737375"/><rect x="1817" y="317" width="9" height="29" fill="#5b1a13"/><rect x="1818" y="318" width="7" height="27" fill="#d75442"/><rect x="1832" y="291" width="1" height="82" fill="#737375"/><rect x="1828" y="303" width="9" height="34" fill="#225437"/><rect x="1829" y="304" width="7" height="32" fill="#6ba583"/><rect x="1844" y="297" width="1" height="51" fill="#737375"/><rect x="1840" y="303" width="9" height="34" fill="#5b1a13"/><rect x="1841" y="304" width="7" height="32" fill="#d75442"/><rect x="1855" y="283" width="1" height="65" fill="#737375"/><rect x="1851" y="291" width="9" height="38" fill="#225437"/><rect x="1852" y="292" width="7" height="36" fill="#6ba583"/><rect x="1867" y="258" width="1" height="69" fill="#737375"/><rect x="1863" y="299" width="9" height="19" fill="#5b1a13"/><rect x="1864" y="300" width="7" height="17" fill="#d75442"/><rect x="1878" y="304" width="1" height="65" fill="#737375"/><rect x="1874" y="308" width="9" height="39" fill="#5b1a13"/><rect x="1875" y="309" width="7" height="37" fill="#d75442"/><rect x="1890" y="326" width="1" height="41" fill="#737375"/><rect x="1886" y="327" width="9" height="19" fill="#225437"/><rect x="1887" y="328" width="7" height="17" fill="#6ba583"/><rect x="1901" y="327" width="1" height="47" fill="#737375"/><rect x="1897" y="329" width="9" height="26" fill="#5b1a13"/><rect x="1898" y="330" width="7" height="24" fill="#d75442"/><rect x="1913" y="337" width="1" height="49" fill="#737375"/><rect x="1909" y="360" width="9" height="3" fill="#5b1a13"/><rect x="1910" y="361" width="7" height="1" fill="#d75442"/><rect x="1924" y="332" width="1" height="41" fill="#737375"/><rect x="1920" y="342" width="9" height="17" fill="#225437"/><rect x="1921" y="343" width="7" height="15" fill="#6ba583"/><rect x="1936" y="331" width="1" height="35" fill="#737375"/><rect x="1932" y="342" width="9" height="17" fill="#5b1a13"/><rect x="1933" y="343" width="7" height="15" fill="#d75442"/><rect x="1947" y="321" width="1" height="61" fill="#737375"/><rect x="1943" y="348" width="9" height="10" fill="#5b1a13"/><rect x="1944" y="349" width="7" height="8" fill="#d75442"/><rect x="1959" y="345" width="1" height="54" fill="#737375"/><rect x="1955" y="357" width="9" height="33" fill="#5b1a13"/><rect x="1956" y="358" width="7" height="31" fill="#d75442"/><rect x="1970" y="342" width="1" height="61" fill="#737375"/><rect x="1966" y="363" width="9" height="20" fill="#225437"/><rect x="1967" y="364" width="7" height="18" fill="#6ba583"/><rect x="1982" y="326" width="1" height="69" fill="#737375"/><rect x="1978" y="352" width="9" height="2" fill="#225437"/><rect x="1993" y="349" width="1" height="59" fill="#737375"/><rect x="1989" y="360" width="9" height="42" fill="#5b1a13"/><rect x="1990" y="361" width="7" height="40" fill="#d75442"/><rect x="2005" y="369" width="1" height="47" fill="#737375"/><rect x="2001" y="380" width="9" height="12" fill="#225437"/><rect x="2002" y="381" width="7" height="10" fill="#6ba583"/><rect x="2016" y="372" width="1" height="82" fill="#737375"/><rect x="2012" y="378" width="9" height="59" fill="#5b1a13"/><rect x="2013" y="379" width="7" height="57" fill="#d75442"/><rect x="2028" y="368" width="1" height="91" fill="#737375"/><rect x="2024" y="382" width="9" height="53" fill="#225437"/><rect x="2025" y="383" width="7" height="51" fill="#6ba583"/><rect x="2039" y="348" width="1" height="68" fill="#737375"/><rect x="2035" y="367" width="9" height="16" fill="#225437"/><rect x="2036" y="368" width="7" height="14" fill="#6ba583"/><rect x="2051" y="359" width="1" height="53" fill="#737375"/><rect x="2047" y="375" width="9" height="15" fill="#5b1a13"/><rect x="2048" y="376" width="7" height="13" fill="#d75442"/><rect x="2062" y="378" width="1" height="55" fill="#737375"/><rect x="2058" y="378" width="9" height="44" fill="#5b1a13"/><rect x="2059" y="379" width="7" height="42" fill="#d75442"/><rect x="2074" y="395" width="1" height="42" fill="#737375"/><rect x="2070" y="413" width="9" height="10" fill="#5b1a13"/><rect x="2071" y="414" width="7" height="8" fill="#d75442"/><rect x="2085" y="402" width="1" height="85" fill="#737375"/><rect x="2081" y="414" width="9" height="45" fill="#5b1a13"/><rect x="2082" y="415" width="7" height="43" fill="#d75442"/><rect x="2097" y="447" width="1" height="93" fill="#737375"/><rect x="2093" y="449" width="9" height="55" fill="#5b1a13"/><rect x="2094" y="450" width="7" height="53" fill="#d75442"/><rect x="2108" y="499" width="1" height="45" fill="#737375"/><rect x="2104" y="502" width="9" height="20" fill="#5b1a13"/><rect x="2105" y="503" width="7" height="18" fill="#d75442"/><rect x="2120" y="485" width="1" height="59" fill="#737375"/><rect x="2116" y="499" width="9" height="23" fill="#225437"/><rect x="2117" y="500" width="7" height="21" fill="#6ba583"/><rect x="2131" y="478" width="1" height="36" fill="#737375"/><rect x="2127" y="497" width="9" height="6" fill="#5b1a13"/><rect x="2128" y="498" width="7" height="4" fill="#d75442"/><rect x="2143" y="483" width="1" height="44" fill="#737375"/><rect x="2139" y="502" width="9" height="5" fill="#5b1a13"/><rect x="2140" y="503" width="7" height="3" fill="#d75442"/><rect x="2154" y="493" width="1" height="59" fill="#737375"/><rect x="2150" y="506" width="9" height="33" fill="#5b1a13"/><rect x="2151" y="507" width="7" height="31" fill="#d75442"/><rect x="2166" y="517" width="1" height="32" fill="#737375"/><rect x="2162" y="533" width="9" height="16" fill="#225437"/><rect x="2163" y="534" width="7" height="14" fill="#6ba583"/><rect x="2177" y="513" width="1" height="22" fill="#737375"/><rect x="2173" y="522" width="9" height="4" fill="#225437"/><rect x="2174" y="523" width="7" height="2" fill="#6ba583"/><rect x="2189" y="464" width="1" height="74" fill="#737375"/><rect x="2185" y="524" width="9" height="4" fill="#225437"/><rect x="2186" y="525" width="7" height="2" fill="#6ba583"/><rect x="2200" y="496" width="1" height="37" fill="#737375"/><rect x="2196" y="505" width="9" height="16" fill="#225437"/><rect x="2197" y="506" width="7" height="14" fill="#6ba583"/><rect x="2212" y="496" width="1" height="24" fill="#737375"/><rect x="2208" y="503" width="9" height="5" fill="#5b1a13"/><rect x="2209" y="504" width="7" height="3" fill="#d75442"/><rect x="2223" y="503" width="1" height="54" fill="#737375"/><rect x="2219" y="507" width="9" height="14" fill="#5b1a13"/><rect x="2220" y="508" width="7" height="12" fill="#d75442"/><rect x="2235" y="491" width="1" height="71" fill="#737375"/><rect x="2231" y="495" width="9" height="26" fill="#225437"/><rect x="2232" y="496" width="7" height="24" fill="#6ba583"/><rect x="2246" y="476" width="1" height="47" fill="#737375"/><rect x="2242" y="487" width="9" height="8" fill="#225437"/><rect x="2243" y="488" width="7" height="6" fill="#6ba583"/></g>
<rect x="16" y="88" width="2293" height="3" fill="#ff9800" shape-rendering="crispEdges"/>
<rect x="16" y="262" width="2293" height="3" fill="#ff9800" shape-rendering="crispEdges"/>
<rect x="16" y="562" width="2293" height="3" fill="#ff9800" shape-rendering="crispEdges"/>
<rect x="16" y="690" width="2293" height="3" fill="#ff9800" shape-rendering="crispEdges"/>
<polyline points="15.5,802.7 27.0,799.3 38.5,817.5 50.0,802.5 61.5,775.5 73.0,784.3 84.5,780.0 96.0,787.6 107.5,800.0 119.0,799.5 130.5,779.8 142.0,777.3 153.5,807.5 165.0,866.7 176.5,828.8 188.0,820.6 199.5,816.9 211.0,828.9 222.5,812.4 234.0,808.9 245.5,804.8 257.0,806.4 268.5,770.8 280.0,767.6 291.5,777.3 303.0,759.1 314.5,751.8 326.0,776.5 337.5,775.7 349.0,783.4 360.5,761.4 372.0,747.3 383.5,789.6 395.0,779.3 406.5,782.4 418.0,792.5 429.5,782.4 441.0,775.2 452.5,846.6 464.0,839.5 475.5,843.1 487.0,836.1 498.5,840.1 510.0,849.6 521.5,842.8 533.0,849.1 544.5,845.4 556.0,850.0 567.5,845.9 579.0,843.7 590.5,832.1 602.0,832.7 613.5,836.4 625.0,830.3 636.5,849.8 648.0,801.2 659.5,816.4 671.0,804.9 682.5,813.4 694.0,800.9 705.5,828.5 717.0,827.6 728.5,816.1 740.0,829.3 751.5,829.0 763.0,833.2 774.5,828.0 786.0,831.3 797.5,840.0 809.0,840.7 820.5,863.0 832.0,866.2 843.5,876.6 855.0,881.6 866.5,876.7 878.0,861.4 889.5,862.2 901.0,855.0 912.5,845.7 924.0,849.0 935.5,845.6 947.0,840.2 958.5,841.3 970.0,823.2 981.5,880.0 993.0,916.1 1004.5,942.0 1016.0,936.3 1027.5,943.0 1039.0,922.3 1050.5,922.7 1062.0,927.2 1073.5,930.1 1085.0,921.7 1096.5,942.9 1108.0,952.1 1119.5,925.7 1131.0,884.4 1142.5,852.5 1154.0,850.2 1165.5,845.8 1177.0,852.0 1188.5,864.0 1200.0,874.8 1211.5,876.5 1223.0,858.8 1234.5,868.4 1246.0,833.6 1257.5,843.6 1269.0,827.1 1280.5,882.3 1292.0,879.8 1303.5,880.3 1315.0,884.1 1326.5,895.9 1338.0,897.6 1349.5,895.8 1361.0,898.8 1372.5,884.1 1384.0,894.6 1395.5,879.1 1407.0,920.4 1418.5,918.0 1430.0,910.1 1441.5,920.4 1453.0,895.7 1464.5,881.6 1476.0,871.8 1487.5,862.0 1499.0,868.7 1510.5,843.5 1522.0,820.9 1533.5,848.6 1545.0,849.2 1556.5,812.0 1568.0,816.0 1579.5,819.3 1591.0,815.9 1602.5,810.8 1614.0,810.8 1625.5,805.4 1637.0,817.1 1648.5,800.2 1660.0,824.1 1671.5,843.4 1683.0,822.5 1694.5,813.0 1706.0,840.3 1717.5,832.7 1729.0,841.8 1740.5,852.5 1752.0,857.8 1763.5,850.5 1775.0,837.7 1786.5,822.2 1798.0,821.5 1809.5,750.1 1821.0,764.1 1832.5,752.4 1844.0,775.2 1855.5,762.1 1867.0,778.9 1878.5,796.7 1890.0,789.9 1901.5,806.1 1913.0,810.9 1924.5,802.4 1936.0,812.5 1947.5,812.0 1959.0,832.2 1970.5,818.8 1982.0,813.3 1993.5,843.2 2005.0,831.9 2016.5,860.8 2028.0,833.6 2039.5,826.8 2051.0,838.4 2062.5,853.9 2074.0,854.4 2085.5,871.3 2097.0,889.4 2108.5,896.0 2120.0,882.0 2131.5,883.3 2143.0,885.0 2154.5,898.7 2166.0,894.9 2177.5,886.3 2189.0,887.3 2200.5,871.9 2212.0,873.1 2223.5,880.9 2235.0,859.8 2246.5,853.4" fill="none" stroke="#4caf50" stroke-width="3.2" stroke-linejoin="round" stroke-linecap="square" clip-path="url(#cr)"/>
<g fill="#4f4f4f" shape-rendering="crispEdges">
<rect x="2309" y="16" width="1" height="1001"/>
<rect x="16" y="721" width="2393" height="1"/>
<rect x="16" y="974" width="2393" height="1"/>
<rect x="61" y="975" width="1" height="7"/>
<rect x="199" y="975" width="1" height="7"/>
<rect x="337" y="975" width="1" height="7"/>
<rect x="475" y="975" width="1" height="7"/>
<rect x="613" y="975" width="1" height="7"/>
<rect x="751" y="975" width="1" height="7"/>
<rect x="889" y="975" width="1" height="7"/>
<rect x="1027" y="975" width="1" height="7"/>
<rect x="1165" y="975" width="1" height="7"/>
<rect x="1303" y="975" width="1" height="7"/>
<rect x="1441" y="975" width="1" height="7"/>
<rect x="1579" y="975" width="1" height="7"/>
<rect x="1717" y="975" width="1" height="7"/>
<rect x="1855" y="975" width="1" height="7"/>
<rect x="1993" y="975" width="1" height="7"/>
<rect x="2131" y="975" width="1" height="7"/>
<rect x="2269" y="975" width="1" height="7"/>
</g>
<rect x="2310" y="181" width="7" height="1" fill="#4f4f4f" shape-rendering="crispEdges"/>
<text x="2325.5" y="188" font-family="Liberation Sans, sans-serif" font-size="18" fill="#555555" text-anchor="start" textLength="64.5" lengthAdjust="spacingAndGlyphs">0.70800</text>
<rect x="2310" y="351" width="7" height="1" fill="#4f4f4f" shape-rendering="crispEdges"/>
<text x="2325.5" y="358" font-family="Liberation Sans, sans-serif" font-size="18" fill="#555555" text-anchor="start" textLength="64.5" lengthAdjust="spacingAndGlyphs">0.70400</text>
<rect x="2310" y="436" width="7" height="1" fill="#4f4f4f" shape-rendering="crispEdges"/>
<text x="2325.5" y="443" font-family="Liberation Sans, sans-serif" font-size="18" fill="#555555" text-anchor="start" textLength="64.5" lengthAdjust="spacingAndGlyphs">0.70200</text>
<rect x="2310" y="522" width="7" height="1" fill="#4f4f4f" shape-rendering="crispEdges"/>
<text x="2325.5" y="529" font-family="Liberation Sans, sans-serif" font-size="18" fill="#555555" text-anchor="start" textLength="64.5" lengthAdjust="spacingAndGlyphs">0.70000</text>
<rect x="2310" y="607" width="7" height="1" fill="#4f4f4f" shape-rendering="crispEdges"/>
<text x="2325.5" y="614" font-family="Liberation Sans, sans-serif" font-size="18" fill="#555555" text-anchor="start" textLength="64.5" lengthAdjust="spacingAndGlyphs">0.69800</text>
<rect x="2310" y="729" width="7" height="1" fill="#4f4f4f" shape-rendering="crispEdges"/>
<text x="2325.5" y="736" font-family="Liberation Sans, sans-serif" font-size="18" fill="#555555" text-anchor="start" textLength="45.5" lengthAdjust="spacingAndGlyphs">80.00</text>
<rect x="2310" y="805" width="7" height="1" fill="#4f4f4f" shape-rendering="crispEdges"/>
<text x="2325.5" y="812" font-family="Liberation Sans, sans-serif" font-size="18" fill="#555555" text-anchor="start" textLength="45.5" lengthAdjust="spacingAndGlyphs">60.00</text>
<rect x="2310" y="880" width="7" height="1" fill="#4f4f4f" shape-rendering="crispEdges"/>
<text x="2325.5" y="887" font-family="Liberation Sans, sans-serif" font-size="18" fill="#555555" text-anchor="start" textLength="45.5" lengthAdjust="spacingAndGlyphs">40.00</text>
<rect x="2310" y="955" width="7" height="1" fill="#4f4f4f" shape-rendering="crispEdges"/>
<text x="2325.5" y="962" font-family="Liberation Sans, sans-serif" font-size="18" fill="#555555" text-anchor="start" textLength="45.5" lengthAdjust="spacingAndGlyphs">20.00</text>
<path d="M2310 76h89a2 2 0 0 1 2 2v23a2 2 0 0 1 -2 2h-89z" fill="#ff9800"/>
<rect x="2310" y="89" width="7" height="1" fill="#222" shape-rendering="crispEdges"/>
<text x="2325.5" y="96" font-family="Liberation Sans, sans-serif" font-size="18" fill="#000" text-anchor="start" textLength="64.5" lengthAdjust="spacingAndGlyphs">0.71015</text>
<path d="M2310 250h89a2 2 0 0 1 2 2v23a2 2 0 0 1 -2 2h-89z" fill="#ff9800"/>
<rect x="2310" y="263" width="7" height="1" fill="#222" shape-rendering="crispEdges"/>
<text x="2325.5" y="270" font-family="Liberation Sans, sans-serif" font-size="18" fill="#000" text-anchor="start" textLength="64.5" lengthAdjust="spacingAndGlyphs">0.70606</text>
<path d="M2310 550h89a2 2 0 0 1 2 2v23a2 2 0 0 1 -2 2h-89z" fill="#ff9800"/>
<rect x="2310" y="563" width="7" height="1" fill="#222" shape-rendering="crispEdges"/>
<text x="2325.5" y="570" font-family="Liberation Sans, sans-serif" font-size="18" fill="#000" text-anchor="start" textLength="64.5" lengthAdjust="spacingAndGlyphs">0.69904</text>
<path d="M2310 678h89a2 2 0 0 1 2 2v23a2 2 0 0 1 -2 2h-89z" fill="#ff9800"/>
<rect x="2310" y="691" width="7" height="1" fill="#222" shape-rendering="crispEdges"/>
<text x="2325.5" y="698" font-family="Liberation Sans, sans-serif" font-size="18" fill="#000" text-anchor="start" textLength="64.5" lengthAdjust="spacingAndGlyphs">0.69603</text>
<rect x="2337.5" y="25.5" width="43" height="29" rx="4.5" fill="#fff" stroke="#d6d9e0" stroke-width="1"/>
<text x="2343.5" y="45.5" font-family="Liberation Sans, sans-serif" font-size="18" fill="#555555" text-anchor="start" textLength="31.5" lengthAdjust="spacingAndGlyphs">USD</text>
<text x="56.75" y="1003" font-family="Liberation Sans, sans-serif" font-size="18" fill="#555555" text-anchor="start" textLength="9.5" lengthAdjust="spacingAndGlyphs">3</text>
<text x="176.75" y="1003" font-family="Liberation Sans, sans-serif" font-size="18" fill="#555555" text-anchor="start" textLength="45.5" lengthAdjust="spacingAndGlyphs">12:00</text>
<text x="332.75" y="1003" font-family="Liberation Sans, sans-serif" font-size="18" fill="#555555" text-anchor="start" textLength="9.5" lengthAdjust="spacingAndGlyphs">4</text>
<text x="452.75" y="1003" font-family="Liberation Sans, sans-serif" font-size="18" fill="#555555" text-anchor="start" textLength="45.5" lengthAdjust="spacingAndGlyphs">12:00</text>
<text x="608.75" y="1003" font-family="Liberation Sans, sans-serif" font-size="18" fill="#555555" text-anchor="start" textLength="9.5" lengthAdjust="spacingAndGlyphs">5</text>
<text x="728.75" y="1003" font-family="Liberation Sans, sans-serif" font-size="18" fill="#555555" text-anchor="start" textLength="45.5" lengthAdjust="spacingAndGlyphs">12:00</text>
<text x="884.75" y="1003" font-family="Liberation Sans, sans-serif" font-size="18" fill="#555555" text-anchor="start" textLength="9.5" lengthAdjust="spacingAndGlyphs">6</text>
<text x="1004.75" y="1003" font-family="Liberation Sans, sans-serif" font-size="18" fill="#555555" text-anchor="start" textLength="45.5" lengthAdjust="spacingAndGlyphs">12:00</text>
<text x="1160.75" y="1003" font-family="Liberation Sans, sans-serif" font-size="18" fill="#555555" text-anchor="start" textLength="9.5" lengthAdjust="spacingAndGlyphs">9</text>
<text x="1280.75" y="1003" font-family="Liberation Sans, sans-serif" font-size="18" fill="#555555" text-anchor="start" textLength="45.5" lengthAdjust="spacingAndGlyphs">12:00</text>
<text x="1431.75" y="1003" font-family="Liberation Sans, sans-serif" font-size="18" fill="#555555" text-anchor="start" textLength="19.5" lengthAdjust="spacingAndGlyphs">10</text>
<text x="1556.75" y="1003" font-family="Liberation Sans, sans-serif" font-size="18" fill="#555555" text-anchor="start" textLength="45.5" lengthAdjust="spacingAndGlyphs">12:00</text>
<text x="1707.75" y="1003" font-family="Liberation Sans, sans-serif" font-size="18" fill="#555555" text-anchor="start" textLength="19.5" lengthAdjust="spacingAndGlyphs">11</text>
<text x="1832.75" y="1003" font-family="Liberation Sans, sans-serif" font-size="18" fill="#555555" text-anchor="start" textLength="45.5" lengthAdjust="spacingAndGlyphs">12:00</text>
<text x="1983.75" y="1003" font-family="Liberation Sans, sans-serif" font-size="18" fill="#555555" text-anchor="start" textLength="19.5" lengthAdjust="spacingAndGlyphs">12</text>
<text x="2108.75" y="1003" font-family="Liberation Sans, sans-serif" font-size="18" fill="#555555" text-anchor="start" textLength="45.5" lengthAdjust="spacingAndGlyphs">12:00</text>
<text x="2259.75" y="1003" font-family="Liberation Sans, sans-serif" font-size="18" fill="#555555" text-anchor="start" textLength="19.5" lengthAdjust="spacingAndGlyphs">13</text>
<text x="29" y="46.6" font-family="Liberation Sans, sans-serif" font-size="18" fill="#555555" text-anchor="start" textLength="344" lengthAdjust="spacingAndGlyphs">New Zealand Dollar / U.S. Dollar, 1h, IDC</text>
<text x="386" y="46.6" font-family="Liberation Sans, sans-serif" font-size="18" fill="#1d5b3b" text-anchor="start" textLength="78" lengthAdjust="spacingAndGlyphs">O0.70065</text>
<text x="475.5" y="46.6" font-family="Liberation Sans, sans-serif" font-size="18" fill="#1d5b3b" text-anchor="start" textLength="78" lengthAdjust="spacingAndGlyphs">H0.70107</text>
<text x="565" y="46.6" font-family="Liberation Sans, sans-serif" font-size="18" fill="#1d5b3b" text-anchor="start" textLength="75.5" lengthAdjust="spacingAndGlyphs">L0.70000</text>
<text x="652" y="46.6" font-family="Liberation Sans, sans-serif" font-size="18" fill="#1d5b3b" text-anchor="start" textLength="76" lengthAdjust="spacingAndGlyphs">C0.70081</text>
<text x="741" y="46.6" font-family="Liberation Sans, sans-serif" font-size="18" fill="#1d5b3b" text-anchor="start" textLength="152" lengthAdjust="spacingAndGlyphs">+0.00019 (+0.03%)</text>
<text x="29" y="73.7" font-family="Liberation Sans, sans-serif" font-size="18" fill="#555555" text-anchor="start" textLength="118.5" lengthAdjust="spacingAndGlyphs">MA (20, close)</text>
<text x="159.2" y="73.7" font-family="Liberation Sans, sans-serif" font-size="18" fill="#673ab7" text-anchor="start" textLength="65.5" lengthAdjust="spacingAndGlyphs">0.70098</text>
<text x="29" y="100.7" font-family="Liberation Sans, sans-serif" font-size="18" fill="#555555" text-anchor="start" textLength="118.5" lengthAdjust="spacingAndGlyphs">MA (30, close)</text>
<text x="159.2" y="100.7" font-family="Liberation Sans, sans-serif" font-size="18" fill="#26c6da" text-anchor="start" textLength="64" lengthAdjust="spacingAndGlyphs">0.70181</text>
<text x="29.3" y="752.6" font-family="Liberation Sans, sans-serif" font-size="18" fill="#555555" text-anchor="start" textLength="118" lengthAdjust="spacingAndGlyphs">RSI (14, close)</text>
<text x="160.2" y="752.6" font-family="Liberation Sans, sans-serif" font-size="18" fill="#4caf50" text-anchor="start" textLength="45.5" lengthAdjust="spacingAndGlyphs">47.00</text>
<g fill="#131722"><path d="M16 1036.2H27.8V1050.9H22.1V1042H16z"/><circle cx="33.1" cy="1039.5" r="3.25"/><path d="M38.5 1036.2H46.2L40 1050.9H33.1z"/></g>
<text x="52.3" y="1051.7" font-family="Liberation Sans, sans-serif" font-size="18.8" fill="#131722" text-anchor="start" textLength="108.8" lengthAdjust="spacingAndGlyphs">TradingView</text>
</svg>
</body></html>
